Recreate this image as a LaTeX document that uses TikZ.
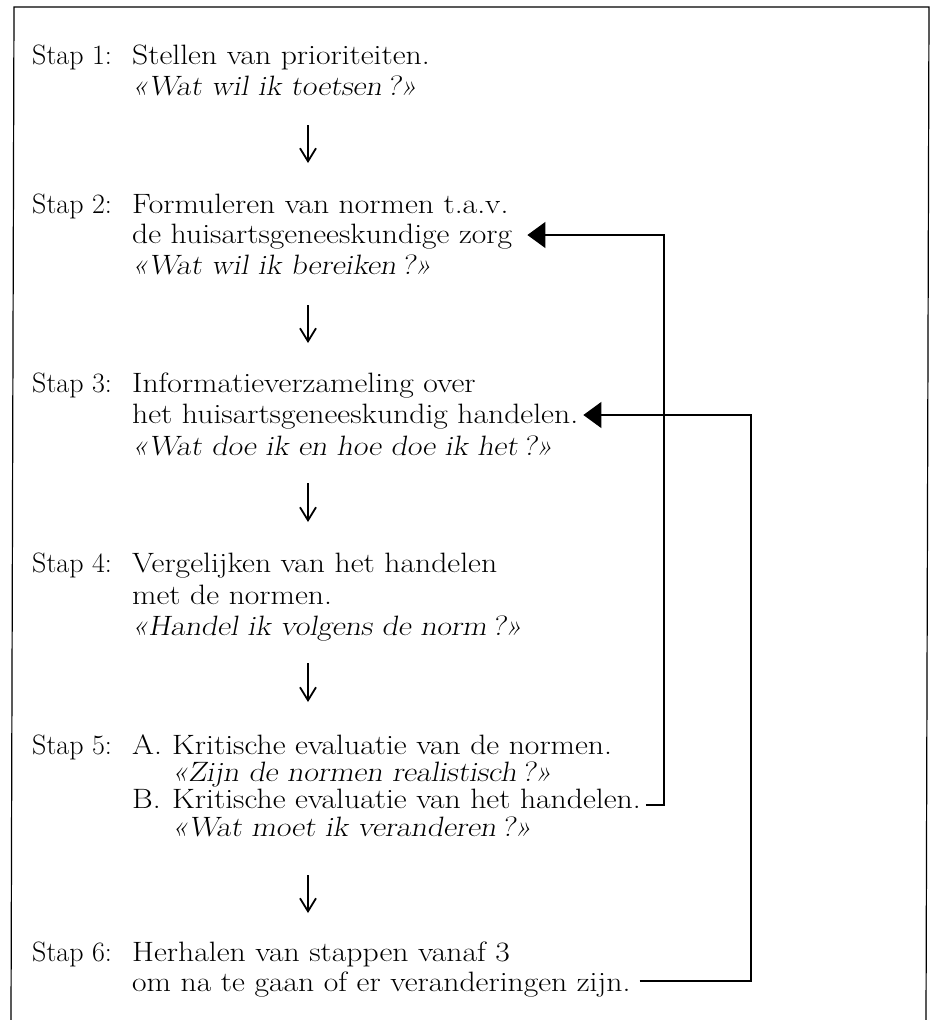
\documentclass[tikz,border=0pt]{standalone}
\usepackage{graphicx}
\usetikzlibrary{arrows.meta}
\newcommand{\wide}[1]{\scalebox{1.13}[1]{#1}}
\begin{document}
\begin{tikzpicture}[x=1pt,y=-1pt,
  lab/.style={anchor=base west,inner sep=0pt,text height=20pt,text depth=5pt,font=\fontsize{28}{34}\selectfont},
  txt/.style={anchor=base west,inner sep=0pt,text height=20pt,text depth=5pt,font=\fontsize{28}{34}\selectfont},
  que/.style={anchor=base west,inner sep=0pt,text height=20pt,text depth=5pt,font=\fontsize{28}{34}\selectfont\slshape},
  down/.style={line width=1.8pt,-{Straight Barb[length=13pt,width=16pt]}},
  back/.style={line width=1.1pt,-{Triangle[length=18pt,width=26pt]}},
  frame/.style={line width=1.2pt}]
\useasboundingbox (0,0) rectangle (939,1020);
% frame (open at the bottom)
\coordinate (fl) at (11,1020);
\coordinate (ftl) at (14,7);
\coordinate (ftr) at (929,7);
\coordinate (fr) at (926,1020);
\draw[frame] (fl) -- (ftl) -- (ftr) -- (fr);

% Step 1
\node[lab] (l1) at (32,64) {Stap 1:};
\node[txt] (s1a) at (132,64) {\wide{Stellen van prioriteiten.}};
\node[que] (s1b) at (132,95) {\wide{«Wat wil ik toetsen\,?»}};
% Step 2
\node[lab] (l2) at (32,213) {Stap 2:};
\node[txt] (s2a) at (132,213) {\wide{Formuleren van normen t.a.v.}};
\node[txt] (s2b) at (132,243) {\wide{de huisartsgeneeskundige zorg}};
\node[que] (s2c) at (132,274) {\wide{«Wat wil ik bereiken\,?»}};
% Step 3
\node[lab] (l3) at (32,392) {Stap 3:};
\node[txt] (s3a) at (132,392) {\wide{Informatieverzameling over}};
\node[txt] (s3b) at (132,423) {\wide{het huisartsgeneeskundig handelen.}};
\node[que] (s3c) at (132,455) {\wide{«Wat doe ik en hoe doe ik het\,?»}};
% Step 4
\node[lab] (l4) at (32,572) {Stap 4:};
\node[txt] (s4a) at (132,572) {\wide{Vergelijken van het handelen}};
\node[txt] (s4b) at (132,604) {\wide{met de normen.}};
\node[que] (s4c) at (132,635) {\wide{«Handel ik volgens de norm\,?»}};
% Step 5
\node[lab] (l5) at (32,754) {Stap 5:};
\node[txt] (s5A) at (132,754) {\wide{A.}};
\node[txt] (s5a) at (172,754) {\wide{Kritische evaluatie van de normen.}};
\node[que] (s5b) at (172,781) {\wide{«Zijn de normen realistisch\,?»}};
\node[txt] (s5B) at (132,808) {\wide{B.}};
\node[txt] (s5c) at (172,808) {\wide{Kritische evaluatie van het handelen.}};
\node[que] (s5d) at (172,836) {\wide{«Wat moet ik veranderen\,?»}};
% Step 6
\node[lab] (l6) at (32,961) {Stap 6:};
\node[txt] (s6a) at (132,961) {\wide{Herhalen van stappen vanaf 3}};
\node[txt] (s6b) at (132,991) {\wide{om na te gaan of er veranderingen zijn.}};

% downward arrows
\coordinate (d1s) at (308,125); \coordinate (d1e) at (308,163);
\coordinate (d2s) at (308,305); \coordinate (d2e) at (308,343);
\coordinate (d3s) at (308,483); \coordinate (d3e) at (308,522);
\coordinate (d4s) at (308,663); \coordinate (d4e) at (308,702);
\coordinate (d5s) at (308,875); \coordinate (d5e) at (308,913);
\draw[down] (d1s) -- (d1e);
\draw[down] (d2s) -- (d2e);
\draw[down] (d3s) -- (d3e);
\draw[down] (d4s) -- (d4e);
\draw[down] (d5s) -- (d5e);

% feedback connectors
\coordinate (c1) at (664,235);
\coordinate (c2) at (751,415);
\draw[back] ([xshift=5pt,yshift=3pt]s5c.base east) -| (c1) -- ([xshift=15pt,yshift=8pt]s2b.base east);
\draw[back] ([xshift=9pt,yshift=10pt]s6b.base east) -| (c2) -- ([xshift=5pt,yshift=8pt]s3b.base east);
\end{tikzpicture}
\end{document}
